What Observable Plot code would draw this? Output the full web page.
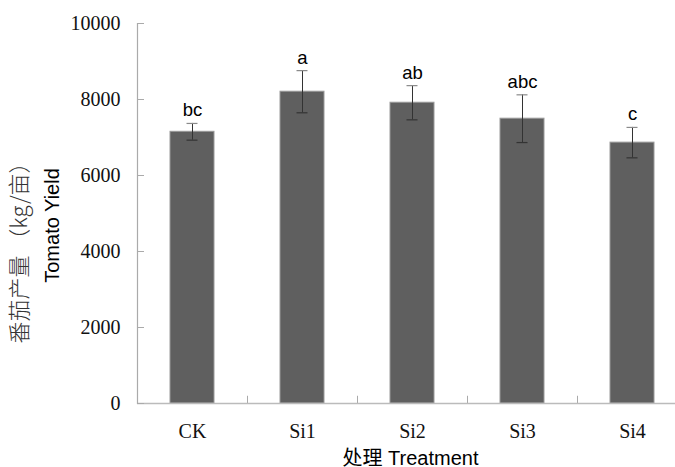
<!DOCTYPE html>
<html>
<head>
<meta charset="utf-8">
<script src="https://cdn.jsdelivr.net/npm/d3@7"></script>
<script src="https://cdn.jsdelivr.net/npm/@observablehq/plot@0.6"></script>
<style>
  html, body { margin: 0; padding: 0; background: #fff; }
  #chart svg { display: block; }
</style>
</head>
<body>
<div id="chart"></div>
<script>
const categories = ["CK", "Si1", "Si2", "Si3", "Si4"];
const means = [7150, 8205, 7915, 7495, 6865];
const errors = [220, 555, 450, 628, 400];
const letters = ["bc", "a", "ab", "abc", "c"];
const yTicks = [0, 2000, 4000, 6000, 8000, 10000];
const yTitle1 = "番茄产量 （kg/亩）";
const yTitle2 = "Tomato Yield";
const xTitle = "处理 Treatment";

const data = categories.map((c, i) => ({
  cat: c, mean: means[i], err: errors[i], letter: letters[i],
  hi: means[i] + errors[i], lo: means[i] - errors[i]
}));

const chart = Plot.plot({
  width: 675,
  height: 467,
  marginLeft: 137,
  marginRight: 0,
  marginTop: 23,
  marginBottom: 64,
  style: {fontFamily: "Liberation Sans, 'Noto Sans CJK SC', sans-serif", background: "#fff", color: "#000"},
  x: {domain: categories, range: [137.5, 687.5], paddingInner: 0.6, paddingOuter: 0.3, align: 0.5},
  y: {domain: [0, 10000], range: [403, 23]},
  marks: [
    Plot.barY(data, {x: "cat", y: "mean", fill: "#5f5f5f", stroke: "#9a9a9a", strokeWidth: 1}),
    Plot.ruleX(data, {x: "cat", y1: "lo", y2: "hi", stroke: "#333", strokeWidth: 1}),
    Plot.tickY(data, {x: "cat", y: "hi", stroke: "#8a8a8a", strokeWidth: 1.2, insetLeft: 16.5, insetRight: 16.5}),
    Plot.tickY(data, {x: "cat", y: "lo", stroke: "#333", strokeWidth: 1.2, insetLeft: 16.5, insetRight: 16.5}),
    Plot.text(data, {x: "cat", y: "hi", text: "letter", dy: -7, lineAnchor: "bottom", fontSize: 18.5, fill: "#000", fontFamily: "Liberation Sans"}),
    Plot.ruleX(categories.slice(0, 4), {x: d => d, dx: 55, y1: 0, y2: 190, stroke: "#aaa", strokeWidth: 1}),
    Plot.ruleY([0], {stroke: "#bbb", strokeWidth: 1.5}),
    Plot.frame({anchor: "left", stroke: "#aaa", strokeWidth: 1.2}),
    Plot.tickY(yTicks, {y: d => d, stroke: "#aaa", insetRight: 531}),
    Plot.axisY({ticks: yTicks, tickSize: 0, tickPadding: 17, tickFormat: d3.format("d"), fontSize: 20, fontFamily: "Liberation Serif", fill: "#111", label: null}),
    Plot.axisX({tickSize: 0, tickPadding: 20, fontSize: 20, fontFamily: "Liberation Serif", fill: "#111", label: null}),
    Plot.text([xTitle], {frameAnchor: "bottom", dx: 4, dy: 61, lineAnchor: "bottom", fontSize: 20, fill: "#000", fontFamily: "Liberation Sans, 'Noto Sans CJK SC'"}),
    Plot.text([yTitle1], {frameAnchor: "left", textAnchor: "middle", dx: -118, dy: 34, rotate: -90, fontSize: 22, fontWeight: 300, fill: "#333", fontFamily: "'Noto Sans CJK SC', Liberation Sans"}),
    Plot.text([yTitle2], {frameAnchor: "left", textAnchor: "middle", dx: -85, dy: 12, rotate: -90, fontSize: 20, fill: "#000", fontFamily: "Liberation Sans"})
  ]
});

document.getElementById("chart").appendChild(chart);
</script>
</body>
</html>
